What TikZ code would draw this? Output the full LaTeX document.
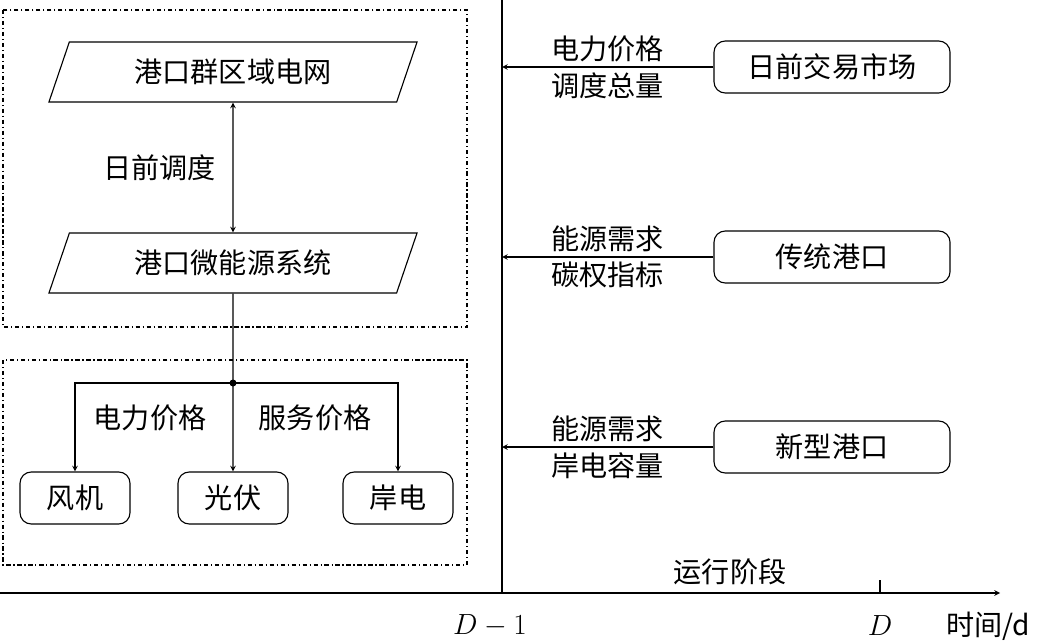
\documentclass[tikz,border=0pt]{standalone}
\usepackage{fontspec}
\newfontfamily\cjk{Noto Sans CJK SC}
\usetikzlibrary{arrows,shapes.geometric}
\begin{document}
\begin{tikzpicture}[>=stealth, x=0.025cm, y=-0.025cm, line width=0.8pt]

\tikzset{
    para/.style={
        draw, trapezium, trapezium left angle=60, trapezium right angle=120,
        minimum width=9.2cm, minimum height=1.5cm, trapezium stretches body,
        font=\cjk\fontsize{20}{24}\selectfont
    },
    unit/.style={
        draw, rectangle, rounded corners=8pt,
        minimum width=#1, minimum height=1.3cm,
        font=\cjk\fontsize{20}{24}\selectfont
    },
    lbl/.style={font=\cjk\fontsize{20}{24}\selectfont},
    zone/.style={draw, dash dot}
}

\useasboundingbox (0,0) rectangle (1040,644);

% zones
\draw[zone] (3,10) rectangle (467,327);
\draw[zone] (3,360) rectangle (467,565);

% time axis
\draw (502,0) -- (502,593);
\draw[->] (0,593) -- (1000,593);
\draw (880,580) -- (880,593);
\node[font=\fontsize{20}{24}\selectfont] at (490,626) {$D-1$};
\node[font=\fontsize{20}{24}\selectfont] at (880,626) {$D$};
\node[lbl] at (988,626) {时间/d};
\node[lbl] at (730,572) {运行阶段};

% grid and micro energy system
\node[para] (Grid) at (233,72) {港口群区域电网};
\node[para] (Micro) at (233,263) {港口微能源系统};
\draw[<->] (Grid) -- (Micro) node[midway, left=0.3cm, lbl] {日前调度};

% units
\node[unit=2.75cm] (Wind) at (75,498) {风机};
\node[unit=2.75cm] (PV) at (233,498) {光伏};
\node[unit=2.75cm] (Shore) at (398,498) {岸电};
\coordinate (Hub) at (233,383);
\draw[->] (Micro) -- (PV);
\fill (Hub) circle (3.5);
\draw[->] (Hub) -| (Wind);
\draw[->] (Hub) -| (Shore);
\node[lbl] at (150,418) {电力价格};
\node[lbl] at (315,418) {服务价格};

% external participants
\node[unit=5.9cm] (Market) at (832,67) {日前交易市场};
\node[unit=5.9cm] (OldPort) at (832,257) {传统港口};
\node[unit=5.9cm] (NewPort) at (832,447) {新型港口};
\foreach \n/\a/\b in {Market/电力价格/调度总量, OldPort/能源需求/碳权指标, NewPort/能源需求/岸电容量}{
    \coordinate (\n-in) at (502,0 |- \n.west);
    \draw[->] (\n.west) -- (\n-in);
    \path (\n.west) -- (\n-in) node[midway, above, lbl] {\a} node[midway, below, lbl] {\b};
}

\end{tikzpicture}
\end{document}
